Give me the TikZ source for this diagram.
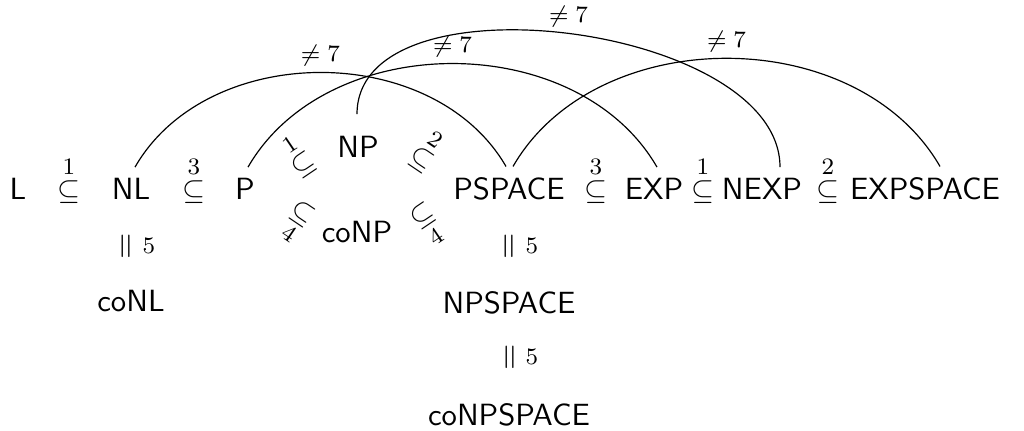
\documentclass[tikz,border=0pt]{standalone}
\usepackage{amsmath}
\usetikzlibrary{calc}
\newcommand{\lsub}[1]{\overset{\mbox{\footnotesize$#1$}}{\subseteq}}
\newcommand{\lsubb}[1]{\underset{\mbox{\footnotesize$#1$}}{\subseteq}}
\begin{document}
\begin{tikzpicture}[x=0.339pt,y=0.339pt,
  cls/.style={font=\fontsize{10.4}{12}\selectfont\sffamily, inner sep=0pt, anchor=base},
  rel/.style={inner sep=0pt, anchor=base},
  rot/.style={inner sep=0pt},
  eqs/.style={inner sep=0pt, rotate=90, scale=1.15},
  five/.style={inner sep=0pt, font=\footnotesize},
  lab/.style={font=\footnotesize, inner sep=2pt},
  arc/.style={line width=0.4pt}]
\useasboundingbox (0,0) rectangle (1024,-430);
% main row
\node[cls] (L) at (18,-199) {L};
\node[rel] (s1) at (69,-199) {$\lsub{1}$};
\node[cls] (NL) at (131,-199) {NL};
\node[rel] (s2) at (194,-199) {$\lsub{3}$};
\node[cls] (P) at (245,-199) {P};
\node[rot, rotate=34] (s3) at (297,-155) {$\lsub{1}$};
\node[cls] (NP) at (358,-157) {NP};
\node[rot, rotate=-34] (s4) at (428,-150) {$\lsub{2}$};
\node[rot, rotate=-34] (s5) at (296,-223) {$\lsubb{4}$};
\node[cls] (coNP) at (357,-242) {coNP};
\node[rot, rotate=34] (s6) at (429,-226) {$\lsubb{4}$};
\node[cls] (PSPACE) at (509,-199) {PSPACE};
\node[rel] (s7) at (596,-199) {$\lsub{3}$};
\node[cls] (EXP) at (654,-199) {EXP};
\node[rel] (s8) at (703,-199) {$\lsub{1}$};
\node[cls] (NEXP) at (762,-199) {NEXP};
\node[rel] (s9) at (828,-199) {$\lsub{2}$};
\node[cls] (EXPSPACE) at (925,-199) {EXPSPACE};
% lower rows
\node[eqs] (e1) at (128,-246) {$=$};
\node[five] (f1) at (149,-246) {$5$};
\node[cls] (coNL) at (131,-311) {coNL};
\node[eqs] (e2) at (511,-246) {$=$};
\node[five] (f2) at (532,-246) {$5$};
\node[cls] (NPSPACE) at (509,-313) {NPSPACE};
\node[eqs] (e3) at (512,-357) {$=$};
\node[five] (f3) at (532,-357) {$5$};
\node[cls] (coNPSPACE) at (509,-425) {coNPSPACE};
% arcs
\draw[arc] ($(NL.north)+(4,10)$) to[bend left=60] node[lab, above] {$\neq 7$} ($(PSPACE.north)+(-3,10)$);
\draw[arc] ($(P.north)+(3,10)$) to[bend left=60] node[lab, above] {$\neq 7$} ($(EXP.north)+(3,10)$);
\draw[arc] ($(NP.north)+(-1,21)$) to[out=90, in=90, looseness=0.86] node[lab, above] {$\neq 7$} ($(NEXP.north)+(18,10)$);
\draw[arc] ($(PSPACE.north)+(4,10)$) to[bend left=60] node[lab, above] {$\neq 7$} ($(EXPSPACE.north)+(15,10)$);
\end{tikzpicture}
\end{document}
